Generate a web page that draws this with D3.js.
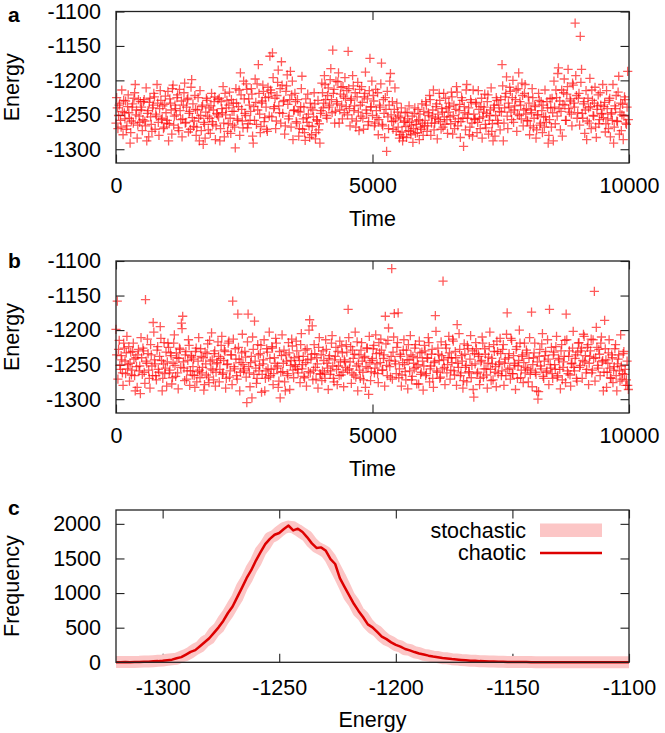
<!DOCTYPE html>
<html><head><meta charset="utf-8">
<script src="https://cdn.jsdelivr.net/npm/d3@7"></script>
<style>
html,body{margin:0;padding:0;background:#fff;}
svg{display:block;}
text{font-family:"Liberation Sans",Arial,Helvetica,sans-serif;fill:#000;}
</style></head><body>
<svg id="chart" width="665" height="733"></svg>
<script>
// ---------------- DATA ----------------
const timeInterval = 25; // samples at t = 0, 25, 50, ... (energyA / energyB)
const halfOffset = 12.5; // intermediate samples at t = 12.5, 37.5, ... (energyAHalf / energyBHalf)
const energyA = [
-1262,-1240,-1251,-1233,-1268,-1245,-1229,-1256,-1271,-1238,-1247,-1291,-1259,-1234,-1226,-1206,-1243,-1265,-1252,-1231,
-1239,-1257,-1228,-1266,-1288,-1244,-1232,-1253,-1274,-1236,-1224,-1249,-1206,-1261,-1241,-1229,-1255,-1270,-1235,-1247,
-1258,-1288,-1227,-1243,-1212,-1265,-1236,-1250,-1221,-1273,-1244,-1230,-1256,-1218,-1262,-1239,-1226,-1248,-1271,-1199,
-1234,-1259,-1242,-1268,-1225,-1288,-1251,-1238,-1293,-1264,-1246,-1229,-1272,-1255,-1237,-1260,-1243,-1224,-1266,-1250,
-1253,-1288,-1231,-1247,-1262,-1219,-1240,-1274,-1236,-1255,-1228,-1265,-1245,-1298,-1233,-1258,-1214,-1189,-1242,-1269,
-1227,-1251,-1213,-1263,-1236,-1245,-1220,-1291,-1258,-1232,-1205,-1177,-1249,-1267,-1230,-1216,-1254,-1239,-1274,-1224,
-1165,-1218,-1160,-1241,-1226,-1259,-1203,-1237,-1212,-1173,-1248,-1229,-1266,-1208,-1235,-1252,-1187,-1221,-1286,-1243,
-1231,-1262,-1245,-1270,-1238,-1194,-1256,-1276,-1227,-1261,-1249,-1283,-1240,-1267,-1253,-1234,-1276,-1259,-1272,-1291,
-1244,-1218,-1233,-1206,-1251,-1222,-1239,-1199,-1228,-1156,-1213,-1245,-1231,-1202,-1262,-1220,-1236,-1209,-1247,-1226,
-1215,-1158,-1241,-1229,-1256,-1208,-1237,-1268,-1224,-1246,-1213,-1252,-1232,-1271,-1219,-1243,-1227,-1260,-1168,-1238,
-1251,-1230,-1262,-1244,-1218,-1257,-1239,-1175,-1266,-1248,-1225,-1303,-1253,-1236,-1190,-1260,-1271,-1242,-1256,-1233,
-1268,-1284,-1254,-1275,-1282,-1259,-1267,-1246,-1273,-1261,-1279,-1252,-1270,-1240,-1264,-1276,-1257,-1249,-1271,-1262,
-1245,-1258,-1236,-1266,-1251,-1228,-1262,-1243,-1272,-1255,-1234,-1249,-1219,-1260,-1241,-1268,-1253,-1226,-1257,-1246,
-1238,-1263,-1224,-1251,-1270,-1242,-1217,-1256,-1235,-1260,-1229,-1296,-1247,-1214,-1255,-1240,-1268,-1232,-1281,-1249,
-1256,-1234,-1261,-1242,-1270,-1226,-1253,-1239,-1264,-1248,-1221,-1258,-1243,-1274,-1288,-1236,-1251,-1229,-1262,-1245,
-1228,-1177,-1288,-1240,-1219,-1252,-1233,-1210,-1246,-1225,-1261,-1237,-1214,-1249,-1189,-1231,-1256,-1222,-1243,-1206,
-1241,-1259,-1233,-1266,-1247,-1225,-1255,-1238,-1272,-1250,-1229,-1262,-1244,-1236,-1268,-1253,-1231,-1291,-1257,-1240,
-1226,-1288,-1239,-1214,-1252,-1182,-1230,-1245,-1281,-1218,-1236,-1258,-1209,-1241,-1227,-1249,-1204,-1233,-1117,-1222,
-1247,-1219,-1136,-1184,-1255,-1231,-1243,-1286,-1226,-1262,-1238,-1214,-1251,-1233,-1268,-1242,-1221,-1257,-1236,-1248,
-1254,-1232,-1263,-1241,-1270,-1226,-1249,-1258,-1291,-1237,-1222,-1260,-1194,-1246,-1273,-1235,-1252,-1228,-1264,-1187
];
const energyAHalf = [
-1225,-1270,-1236,-1258,-1214,-1279,-1247,-1230,-1266,-1221,-1255,-1276,-1239,-1262,-1218,-1250,-1284,-1228,-1261,-1243,
-1273,-1231,-1259,-1211,-1248,-1282,-1226,-1264,-1240,-1219,-1271,-1252,-1233,-1280,-1215,-1257,-1237,-1268,-1223,-1262,
-1216,-1263,-1233,-1278,-1207,-1252,-1241,-1225,-1269,-1213,-1257,-1282,-1236,-1204,-1261,-1228,-1275,-1245,-1210,-1254,
-1267,-1222,-1280,-1243,-1255,-1215,-1273,-1236,-1261,-1284,-1226,-1252,-1240,-1277,-1219,-1264,-1231,-1286,-1248,-1228,
-1226,-1270,-1241,-1209,-1282,-1250,-1229,-1263,-1217,-1277,-1245,-1233,-1268,-1212,-1256,-1238,-1280,-1221,-1259,-1201,
-1248,-1205,-1269,-1227,-1258,-1212,-1281,-1238,-1198,-1264,-1243,-1219,-1276,-1233,-1207,-1260,-1225,-1271,-1210,-1252,
-1214,-1253,-1196,-1238,-1270,-1222,-1185,-1247,-1262,-1207,-1231,-1278,-1216,-1192,-1256,-1228,-1268,-1201,-1244,-1219,
-1260,-1228,-1281,-1246,-1212,-1271,-1239,-1287,-1254,-1220,-1266,-1233,-1279,-1243,-1218,-1285,-1257,-1229,-1263,-1248,
-1204,-1240,-1193,-1228,-1255,-1211,-1236,-1183,-1247,-1219,-1262,-1201,-1234,-1189,-1243,-1210,-1256,-1223,-1196,-1238,
-1250,-1212,-1266,-1227,-1193,-1244,-1218,-1259,-1203,-1273,-1236,-1209,-1255,-1224,-1188,-1248,-1265,-1215,-1239,-1201,
-1222,-1266,-1213,-1254,-1279,-1236,-1205,-1264,-1228,-1283,-1242,-1216,-1270,-1201,-1250,-1231,-1259,-1211,-1274,-1246,
-1252,-1279,-1240,-1288,-1261,-1247,-1283,-1256,-1237,-1274,-1265,-1290,-1248,-1277,-1259,-1242,-1286,-1268,-1234,-1280,
-1266,-1231,-1274,-1247,-1222,-1280,-1253,-1214,-1262,-1238,-1285,-1257,-1229,-1271,-1246,-1219,-1264,-1240,-1277,-1233,
-1253,-1217,-1278,-1236,-1260,-1209,-1266,-1244,-1283,-1225,-1255,-1238,-1272,-1206,-1249,-1279,-1228,-1262,-1214,-1257,
-1232,-1276,-1215,-1255,-1238,-1284,-1246,-1220,-1269,-1231,-1278,-1251,-1211,-1263,-1240,-1281,-1225,-1258,-1236,-1272,
-1246,-1208,-1262,-1224,-1195,-1270,-1239,-1216,-1257,-1200,-1243,-1228,-1274,-1212,-1251,-1236,-1204,-1266,-1219,-1249,
-1258,-1224,-1279,-1243,-1212,-1269,-1236,-1284,-1250,-1219,-1265,-1231,-1276,-1253,-1214,-1261,-1240,-1280,-1227,-1268,
-1247,-1201,-1263,-1225,-1190,-1241,-1272,-1214,-1235,-1198,-1258,-1220,-1184,-1246,-1230,-1266,-1207,-1239,-1193,-1255,
-1226,-1265,-1203,-1248,-1234,-1277,-1215,-1259,-1240,-1197,-1270,-1229,-1252,-1210,-1283,-1237,-1263,-1218,-1249,-1206,
-1238,-1275,-1215,-1256,-1229,-1282,-1247,-1206,-1268,-1241,-1259,-1217,-1278,-1233,-1250,-1286,-1224,-1262,-1239,-1257
];
const energyB = [
-1199,-1158,-1228,-1251,-1237,-1262,-1219,-1245,-1233,-1256,-1224,-1248,-1265,-1231,-1242,-1288,-1253,-1236,-1259,-1292,
-1240,-1226,-1261,-1156,-1248,-1234,-1270,-1221,-1252,-1189,-1243,-1266,-1229,-1257,-1238,-1212,-1288,-1249,-1263,-1232,
-1246,-1225,-1258,-1237,-1269,-1219,-1251,-1233,-1262,-1241,-1228,-1190,-1180,-1255,-1236,-1271,-1244,-1222,-1259,-1239,
-1253,-1266,-1231,-1275,-1245,-1258,-1227,-1262,-1240,-1279,-1249,-1234,-1268,-1215,-1256,-1243,-1272,-1230,-1261,-1247,
-1238,-1257,-1222,-1264,-1244,-1231,-1270,-1249,-1216,-1259,-1236,-1158,-1253,-1227,-1266,-1177,-1242,-1261,-1233,-1250,
-1256,-1239,-1305,-1177,-1262,-1247,-1298,-1228,-1187,-1255,-1270,-1236,-1251,-1222,-1264,-1243,-1288,-1259,-1232,-1268,
-1241,-1257,-1226,-1263,-1248,-1219,-1252,-1274,-1298,-1237,-1260,-1229,-1288,-1245,-1266,-1233,-1251,-1213,-1258,-1240,
-1253,-1230,-1262,-1244,-1221,-1256,-1238,-1269,-1247,-1227,-1260,-1185,-1242,-1194,-1258,-1234,-1271,-1249,-1225,-1263,
-1236,-1259,-1244,-1270,-1228,-1255,-1241,-1264,-1219,-1252,-1275,-1238,-1257,-1231,-1266,-1246,-1223,-1261,-1243,-1254,
-1232,-1170,-1256,-1224,-1262,-1241,-1235,-1268,-1217,-1249,-1258,-1229,-1245,-1272,-1238,-1253,-1226,-1293,-1247,-1260,
-1241,-1222,-1255,-1234,-1263,-1218,-1247,-1229,-1258,-1236,-1180,-1251,-1215,-1244,-1268,-1111,-1232,-1176,-1249,-1225,
-1175,-1256,-1238,-1265,-1229,-1250,-1272,-1243,-1221,-1259,-1236,-1267,-1248,-1226,-1254,-1240,-1278,-1233,-1261,-1245,
-1252,-1230,-1263,-1241,-1218,-1256,-1235,-1270,-1247,-1179,-1259,-1226,-1244,-1268,-1237,-1129,-1254,-1221,-1262,-1240,
-1233,-1258,-1247,-1216,-1265,-1240,-1192,-1254,-1228,-1262,-1245,-1273,-1235,-1251,-1222,-1260,-1242,-1269,-1230,-1297,
-1249,-1227,-1261,-1238,-1270,-1244,-1219,-1256,-1235,-1265,-1248,-1224,-1257,-1241,-1272,-1231,-1253,-1216,-1263,-1246,
-1234,-1259,-1221,-1248,-1266,-1175,-1240,-1255,-1212,-1263,-1237,-1251,-1228,-1270,-1244,-1219,-1258,-1236,-1247,-1262,
-1229,-1256,-1241,-1264,-1174,-1250,-1233,-1261,-1288,-1300,-1238,-1252,-1220,-1267,-1245,-1231,-1259,-1242,-1170,-1255,
-1263,-1236,-1250,-1224,-1268,-1241,-1257,-1230,-1272,-1246,-1215,-1177,-1259,-1238,-1265,-1249,-1226,-1254,-1241,-1270,
-1232,-1218,-1251,-1226,-1244,-1209,-1237,-1257,-1221,-1248,-1230,-1262,-1214,-1144,-1240,-1225,-1255,-1235,-1219,-1246,
-1288,-1186,-1243,-1261,-1233,-1255,-1270,-1240,-1258,-1227,-1266,-1249,-1236,-1274,-1252,-1263,-1231,-1257,-1272,-1280
];
const energyBHalf = [
-1236,-1271,-1215,-1257,-1243,-1280,-1226,-1263,-1209,-1250,-1274,-1232,-1258,-1219,-1266,-1240,-1283,-1228,-1252,-1211,
-1264,-1230,-1277,-1245,-1213,-1258,-1284,-1236,-1266,-1203,-1249,-1272,-1224,-1261,-1195,-1244,-1270,-1218,-1255,-1281,
-1219,-1262,-1233,-1278,-1248,-1207,-1267,-1240,-1285,-1226,-1254,-1198,-1246,-1273,-1231,-1259,-1214,-1280,-1237,-1265,
-1242,-1283,-1226,-1260,-1211,-1269,-1238,-1254,-1287,-1232,-1265,-1220,-1276,-1245,-1204,-1258,-1234,-1281,-1249,-1217,
-1275,-1241,-1209,-1262,-1229,-1284,-1250,-1219,-1268,-1236,-1279,-1213,-1256,-1242,-1271,-1225,-1288,-1247,-1206,-1259,
-1231,-1268,-1217,-1253,-1282,-1238,-1210,-1264,-1245,-1277,-1221,-1259,-1234,-1290,-1249,-1214,-1270,-1227,-1256,-1203,
-1266,-1224,-1279,-1240,-1212,-1255,-1283,-1231,-1261,-1207,-1248,-1275,-1236,-1263,-1218,-1286,-1244,-1223,-1269,-1250,
-1216,-1257,-1238,-1276,-1205,-1250,-1267,-1229,-1281,-1243,-1200,-1262,-1235,-1272,-1221,-1254,-1240,-1284,-1211,-1264,
-1273,-1230,-1262,-1214,-1248,-1286,-1237,-1259,-1208,-1270,-1243,-1225,-1279,-1252,-1216,-1265,-1233,-1282,-1246,-1221,
-1258,-1211,-1246,-1277,-1229,-1265,-1203,-1252,-1288,-1236,-1270,-1218,-1261,-1240,-1283,-1226,-1255,-1209,-1273,-1244,
-1227,-1262,-1207,-1249,-1276,-1233,-1213,-1258,-1241,-1281,-1220,-1266,-1197,-1253,-1238,-1271,-1210,-1245,-1263,-1218,
-1269,-1235,-1281,-1247,-1214,-1260,-1229,-1285,-1243,-1208,-1272,-1238,-1256,-1221,-1278,-1250,-1216,-1264,-1232,-1287,
-1222,-1266,-1240,-1211,-1275,-1252,-1228,-1283,-1245,-1202,-1261,-1235,-1270,-1217,-1256,-1243,-1279,-1226,-1250,-1209,
-1271,-1240,-1213,-1259,-1231,-1280,-1248,-1205,-1266,-1237,-1284,-1220,-1254,-1275,-1227,-1262,-1208,-1251,-1286,-1234,
-1218,-1263,-1235,-1279,-1246,-1210,-1268,-1227,-1256,-1284,-1239,-1203,-1273,-1249,-1221,-1261,-1282,-1231,-1250,-1212,
-1266,-1228,-1280,-1242,-1206,-1257,-1234,-1271,-1215,-1263,-1248,-1286,-1224,-1252,-1200,-1269,-1238,-1276,-1219,-1254,
-1233,-1275,-1211,-1258,-1282,-1240,-1219,-1264,-1246,-1289,-1228,-1256,-1205,-1270,-1237,-1261,-1214,-1279,-1250,-1225,
-1270,-1232,-1257,-1209,-1266,-1243,-1285,-1221,-1254,-1238,-1276,-1214,-1263,-1230,-1281,-1248,-1202,-1259,-1236,-1274,
-1219,-1254,-1230,-1270,-1206,-1246,-1262,-1225,-1279,-1238,-1213,-1258,-1241,-1274,-1196,-1251,-1228,-1266,-1210,-1244,
-1261,-1227,-1283,-1248,-1214,-1269,-1236,-1276,-1253,-1221,-1288,-1242,-1259,-1207,-1271,-1234,-1264,-1280,-1245,-1286
];
const histBinStart = -1320, histBinWidth = 2;
const freqChaotic = [
2,1,3,2,4,5,7,9,14,17,
22,30,38,58,75,112,150,176,232,290,
348,425,505,598,712,806,942,1075,1215,1330,
1470,1590,1706,1782,1842,1868,1925,1975,1905,1930,
1882,1805,1718,1652,1660,1610,1490,1420,1215,1090,
968,845,742,650,548,505,438,372,335,288,
252,226,192,172,148,128,112,96,84,74,
63,56,47,40,34,29,24,21,17,15,
12,10,9,7,6,5,4,3,3,2,
2,1,1,1,1,1,1,0,1,0,
0,0,0,0,0,0,0,0,0,0,
0
];
const freqStochastic = [
3,4,3,5,6,7,10,12,16,21,
26,36,45,52,82,105,142,190,225,298,
340,438,498,612,705,822,930,1090,1200,1345,
1455,1605,1690,1800,1830,1890,1940,1960,1950,1910,
1865,1820,1730,1665,1630,1590,1500,1370,1240,1100,
955,860,730,665,560,490,450,380,325,295,
248,230,188,180,145,132,108,98,82,76,
60,57,45,42,33,30,23,22,16,16,
11,11,8,8,5,6,4,4,3,3,
2,2,2,1,2,1,1,1,1,1,
1,1,1,1,1,1,1,1,1,1,
1
];
const timeTicks = [0, 5000, 10000];
const energyTicks = [-1300, -1250, -1200, -1150, -1100];
const freqTicks = [0, 500, 1000, 1500, 2000];
const histEnergyTicks = [-1300, -1250, -1200, -1150, -1100];
const panelLetters = ["a", "b", "c"];
const legendLabels = ["stochastic", "chaotic"];

// ---------------- DRAW ----------------
const svg = d3.select("#chart");
const FS = 21.5;
const L = 116, R = 629, TICK = 8.5;
const frameCol = "#222";

function frameAxes(g, x, y, top, bottom, xTicks, yTicks, xPad, yFmt) {
  const ax = (axis, tx, ty) => {
    const a = g.append("g").attr("transform", `translate(${tx},${ty})`).call(axis);
    a.select(".domain").remove();
    a.selectAll(".tick line").attr("stroke", frameCol).attr("stroke-width", 1.1);
    a.selectAll("text").style("font-size", FS + "px").style("font-family", '"Liberation Sans",Arial,sans-serif').attr("fill", "#000");
    return a;
  };
  ax(d3.axisBottom(x).tickValues(xTicks).tickSize(-TICK).tickPadding(xPad).tickFormat(d3.format("d")), 0, bottom);
  ax(d3.axisTop(x).tickValues(xTicks).tickSize(-TICK).tickFormat(""), 0, top);
  ax(d3.axisLeft(y).tickValues(yTicks).tickSize(-TICK).tickPadding(15).tickFormat(yFmt), L, 0);
  ax(d3.axisRight(y).tickValues(yTicks).tickSize(-TICK).tickFormat(""), R, 0);
  g.selectAll("text").text(function(){ return this.textContent.replace("\u2212", "-"); });
}
function frameRect(g, top, bottom) {
  g.append("rect").attr("x", L).attr("y", top).attr("width", R - L).attr("height", bottom - top)
    .attr("fill", "none").attr("stroke", frameCol).attr("stroke-width", 1.3);
}
function yLabel(g, text, cy) {
  g.append("text").attr("transform", `translate(19,${cy}) rotate(-90)`).attr("text-anchor", "middle")
    .style("font-size", FS + "px").text(text);
}
function letter(g, t, yb) {
  g.append("text").attr("x", 8).attr("y", yb).style("font-size", "21px").style("font-weight", "bold").text(t);
}

function scatterPanel(data, dataHalf, top, bottom, letterY, timeLabelY, idx) {
  const g = svg.append("g");
  const x = d3.scaleLinear().domain([0, 10000]).range([L, R]);
  const y = d3.scaleLinear().domain([-1320, -1100]).range([bottom, top]);
  frameAxes(g, x, y, top, bottom, timeTicks, energyTicks, 15, d3.format("d"));
  const pts = [];
  data.forEach((e, i) => pts.push([i * timeInterval, e]));
  dataHalf.forEach((e, i) => pts.push([i * timeInterval + halfOffset, e]));
  const h = 4.6;
  g.append("g").selectAll("path").data(pts).join("path")
    .attr("d", d => {
      const px = x(d[0]), py = y(d[1]);
      return `M${px - h},${py}H${px + h}M${px},${py - h}V${py + h}`;
    })
    .attr("stroke", "rgba(255,0,0,0.65)").attr("stroke-width", 1.3).attr("fill", "none");
  frameRect(g, top, bottom);
  yLabel(g, "Energy", (top + bottom) / 2);
  g.append("text").attr("x", (L + R) / 2).attr("y", timeLabelY).attr("text-anchor", "middle")
    .style("font-size", FS + "px").text("Time");
  letter(g, panelLetters[idx], letterY);
}

scatterPanel(energyA, energyAHalf, 11.5, 163, 21.5, 225.5, 0);
scatterPanel(energyB, energyBHalf, 261, 413, 268, 475.5, 1);

// histogram panel
(function () {
  const top = 510, bottom = 662.3;
  const g = svg.append("g");
  const x = d3.scaleLinear().domain([-1320, -1100]).range([L, R]);
  const y = d3.scaleLinear().domain([0, 2200]).range([bottom, top]);
  const bins = freqChaotic.map((_, i) => histBinStart + i * histBinWidth);
  frameAxes(g, x, y, top, bottom, histEnergyTicks, freqTicks, 17.5, d3.format("d"));
  const line = d3.line().x((d, i) => x(bins[i])).y(d => y(d));
  g.append("path").datum(freqStochastic).attr("d", line).attr("fill", "none")
    .attr("stroke", "#fcc6c6").attr("stroke-width", 12).attr("stroke-linejoin", "round").attr("stroke-linecap", "butt");
  g.append("path").datum(freqChaotic).attr("d", line).attr("fill", "none")
    .attr("stroke", "#dd0000").attr("stroke-width", 2.5).attr("stroke-linejoin", "round");
  frameRect(g, top, bottom);
  yLabel(g, "Frequency", (top + bottom) / 2);
  g.append("text").attr("x", (L + R) / 2).attr("y", 727).attr("text-anchor", "middle")
    .style("font-size", FS + "px").text("Energy");
  letter(g, panelLetters[2], 515);
  const lg = g.append("g");
  lg.append("text").attr("x", 526).attr("y", 538).attr("text-anchor", "end").style("font-size", FS + "px").text(legendLabels[0]);
  lg.append("rect").attr("x", 540).attr("y", 523.5).attr("width", 62).attr("height", 13.5).attr("fill", "#fcc6c6");
  lg.append("text").attr("x", 526).attr("y", 560).attr("text-anchor", "end").style("font-size", FS + "px").text(legendLabels[1]);
  lg.append("line").attr("x1", 540).attr("x2", 602).attr("y1", 553).attr("y2", 553).attr("stroke", "#dd0000").attr("stroke-width", 2.5);
})();
</script>
</body></html>
